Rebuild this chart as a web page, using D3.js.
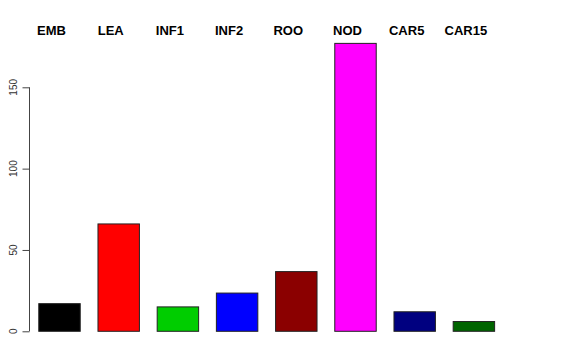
<!DOCTYPE html>
<html lang="en">
<head>
    <meta charset="UTF-8">
    <title>Barplot</title>
    <script src="https://d3js.org/d3.v7.min.js"></script>
    <style>
        body { margin: 0; background: #fff; }
        text { font-family: "Liberation Sans", Arial, sans-serif; }
    </style>
</head>
<body>
    <svg id="chart"></svg>
    <script>
        const categories = ["EMB", "LEA", "INF1", "INF2", "ROO", "NOD", "CAR5", "CAR15"];
        const values = [17, 66, 15, 23.5, 36.7, 177, 12, 6];
        const colors = ["#000000", "#ff0000", "#00cd00", "#0000ff", "#8b0000", "#ff00ff", "#000080", "#006400"];
        const yTicks = [0, 50, 100, 150];

        const width = 576, height = 360;

        const svg = d3.select("#chart")
            .attr("width", width)
            .attr("height", height);

        const x = d3.scaleBand()
            .domain(categories)
            .range([29.4, 503])
            .paddingInner(0.3)
            .paddingOuter(0.15);

        const y = d3.scaleLinear()
            .domain([0, 150])
            .range([331.3, 87.3]);

        svg.selectAll("rect.bar")
            .data(categories)
            .join("rect")
            .attr("class", "bar")
            .attr("x", d => x(d) + 0.5)
            .attr("y", (d, i) => y(values[i]))
            .attr("width", x.bandwidth())
            .attr("height", (d, i) => y(0) - y(values[i]))
            .attr("fill", (d, i) => colors[i])
            .attr("stroke", "#222")
            .attr("stroke-width", 1);

        // names along the top, a bit left of each bar centre
        svg.selectAll("text.lab")
            .data(categories)
            .join("text")
            .attr("class", "lab")
            .attr("x", d => x(d) + x.bandwidth() / 2 - 7.5)
            .attr("y", 34.5)
            .attr("text-anchor", "middle")
            .attr("font-size", 13)
            .attr("font-weight", "bold")
            .text(d => d);

        const axis = d3.axisLeft(y)
            .tickValues(yTicks)
            .tickSize(7)
            .tickFormat(d3.format("d"));

        const g = svg.append("g")
            .attr("transform", "translate(29.5,0)")
            .call(axis);

        g.select(".domain").attr("stroke", "#444").attr("d", `M0,${y(0)}V${y(150)}`);
        g.selectAll(".tick").attr("transform", null);
        g.selectAll(".tick line")
            .attr("stroke", "#444")
            .attr("y1", d => y(d) + 0.5)
            .attr("y2", d => y(d) + 0.5)
            .attr("x2", -7);
        g.selectAll(".tick text")
            .attr("font-size", 10)
            .attr("fill", "#333")
            .attr("transform", "rotate(-90)")
            .attr("x", d => -y(d))
            .attr("y", -13)
            .attr("dy", 0)
            .attr("text-anchor", "middle");
    </script>
</body>
</html>
